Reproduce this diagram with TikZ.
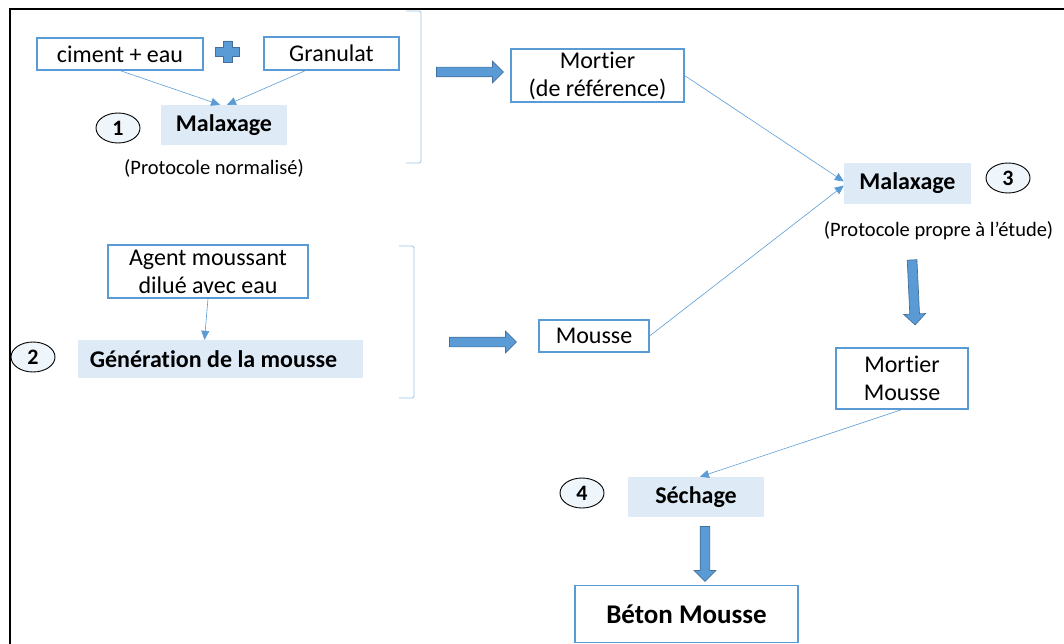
\documentclass[tikz,border=0pt]{standalone}
\usepackage{fontspec}
\setmainfont[Ligatures=NoCommon]{Carlito}
\usetikzlibrary{shapes.geometric,shapes.arrows,arrows.meta}
\definecolor{bblue}{HTML}{5B9BD5}
\definecolor{dblue}{HTML}{41719C}
\definecolor{lfill}{HTML}{DEEBF7}
\definecolor{brk}{HTML}{9DC3E6}
\begin{document}
\begin{tikzpicture}[x=1pt,y=-1pt,
  box/.style={draw=bblue,line width=1.1pt,fill=white,inner sep=0pt,align=center,font=\fontsize{24}{28}\selectfont},
  stepbox/.style={fill=lfill,inner sep=0pt,align=center,font=\fontsize{24}{28}\selectfont\bfseries},
  num/.style={ellipse,draw=black,line width=0.9pt,fill=lfill!50,minimum width=44pt,minimum height=30pt,inner sep=0pt,font=\fontsize{22}{26}\selectfont\bfseries},
  note/.style={inner sep=0pt,font=\fontsize{20.5}{24}\selectfont},
  conn/.style={draw=bblue,line width=0.6pt,-{Triangle[length=9pt,width=8pt]}},
  bigarrow/.style={single arrow,draw=dblue,line width=0.7pt,fill=bblue,inner sep=4.5pt,minimum width=21pt,single arrow head extend=6pt},
  bracket/.style={draw=brk,line width=0.8pt,rounded corners=1.5pt}]
\useasboundingbox (0,0) rectangle (1064,644);
% frame
\draw[black,line width=2.6pt] (10,644) -- (10,9) -- (1064,9);

% step 1
\node[box,minimum width=166pt,minimum height=32pt] (cim) at (120,54) {ciment + eau};
\node[box,minimum width=135pt,minimum height=33pt] (gran) at (331.5,53.5) {Granulat};
\fill[bblue,draw=dblue,line width=0.5pt] (223,41) -- (232,41) -- (232,47.5) -- (239.5,47.5) -- (239.5,56) -- (232,56) -- (232,62.5) -- (223,62.5) -- (223,56) -- (215.5,56) -- (215.5,47.5) -- (223,47.5) -- cycle;
\node[stepbox,minimum width=126pt,minimum height=40pt] (mal1) at (224,125) {Malaxage};
\node[num] (n1) at (118,128) {1};
\node[note] (p1) at (214,168) {(Protocole normalisé)};
\draw[conn] (cim.south) -- ([xshift=-4pt]mal1.north);
\draw[conn] ([xshift=-26pt]gran.south) -- ([xshift=3pt]mal1.north);
\draw[bracket] (406,11) -- (421,11) -- (421,163) -- (406,163);
\node[bigarrow,minimum height=67pt] (a1) at (467.5,72) {};

% mortier de reference
\node[box,minimum width=173pt,minimum height=53pt] (mort) at (597.5,75.5) {Mortier\\(de référence)};

% step 3
\node[stepbox,minimum width=127pt,minimum height=41pt] (mal3) at (907.5,183.5) {Malaxage};
\node[num] (n3) at (1008,178) {3};
\node[note] (p3) at (938.5,231) {(Protocole propre à l’étude)};
\draw[conn] (mort.east) -- ([yshift=2pt]mal3.west);

% step 2
\node[box,minimum width=200pt,minimum height=53pt] (agent) at (208,271.5) {Agent moussant\\dilué avec eau};
\node[stepbox,minimum width=285pt,minimum height=38pt] (gen) at (220.5,359) {Génération de la mousse\hspace*{14pt}};
\node[num] (n2) at (33,357) {2};
\draw[conn] (agent.south) -- ([xshift=-16pt]gen.north);
\draw[bracket] (399,246) -- (414,246) -- (414,398) -- (399,398);
\node[bigarrow,minimum height=67pt] (a2) at (480.5,342) {};
\node[box,minimum width=110pt,minimum height=32pt] (mousse) at (594,336) {Mousse};
\draw[conn] (mousse.east) -- ([yshift=-2pt]mal3.west);

% mortier mousse
\node[bigarrow,minimum height=65pt,rotate=-87.3] (a3) at (913.5,290) {};
\node[box,minimum width=132pt,minimum height=61pt] (mm) at (902,378.5) {Mortier\\Mousse};

% step 4
\node[stepbox,minimum width=136pt,minimum height=40pt] (sech) at (696,497) {Séchage};
\node[num] (n4) at (582,493) {4};
\draw[conn] (mm.south) -- ([xshift=4pt]sech.north);
\node[bigarrow,minimum height=55pt,rotate=-90] (a4) at (705,551.5) {};
\node[box,minimum width=223pt,minimum height=57pt,font=\fontsize{27}{32}\selectfont\bfseries] (beton) at (686.5,614) {Béton Mousse};
\end{tikzpicture}
\end{document}
